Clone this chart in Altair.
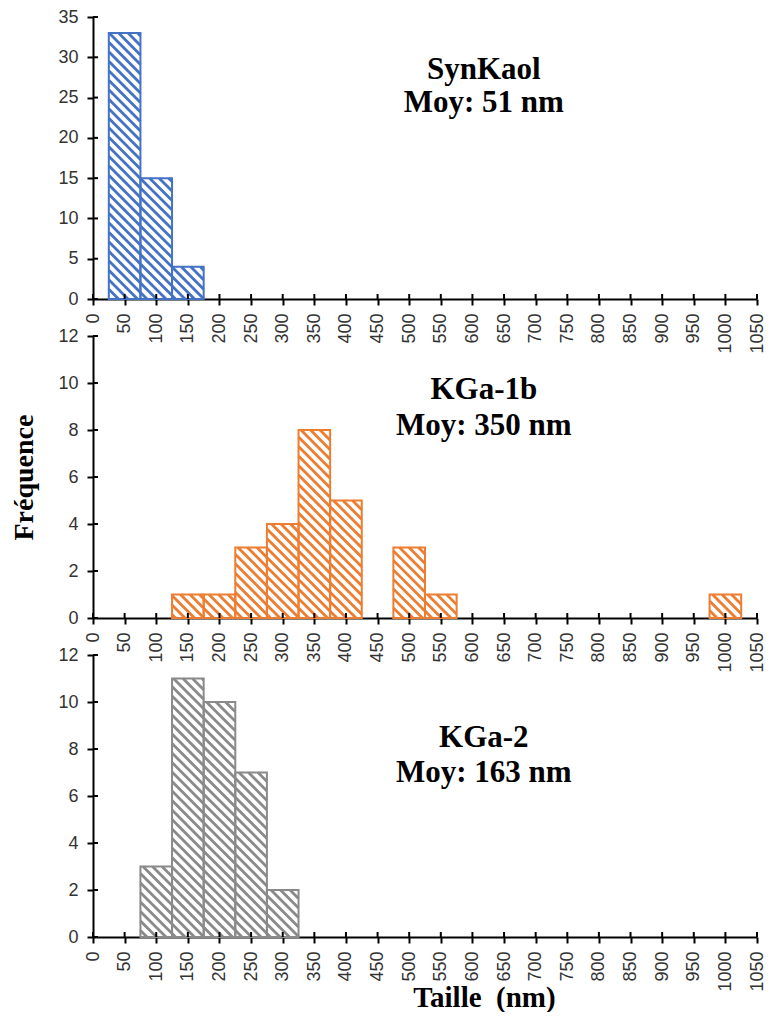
import altair as alt
import pandas as pd
import numpy as np

# ---------------- data ----------------
x_ticks = list(range(0, 1051, 50))

syn_sizes = [50, 100, 150]
syn_counts = [33, 15, 4]

kga1b_sizes = [150, 200, 250, 300, 350, 400, 500, 550, 1000]
kga1b_counts = [1, 1, 3, 4, 8, 5, 3, 1, 1]

kga2_sizes = [100, 150, 200, 250, 300]
kga2_counts = [3, 11, 10, 7, 2]

names = ["SynKaol", "KGa-1b", "KGa-2"]
means = ["Moy: 51 nm", "Moy: 350 nm", "Moy: 163 nm"]
colors = ["#4472C4", "#ED7D31", "#8A8A8A"]
y_max = [35, 12, 12]
y_step = [5, 2, 2]
label_x = [618, 618, 618]
label_y1 = [28.4, 9.72, 8.45]
label_y2 = [24.3, 8.18, 7.0]

BIN = 50
W, H = 664, 282
HATCH = 9.5  # hatch period in px


def hatch_table(sizes, counts, ymax):
    kx = W / 1050.0
    ky = H / float(ymax)
    rows = []
    for c, n in zip(sizes, counts):
        px0 = (c - BIN / 2) * kx
        px1 = (c + BIN / 2) * kx
        ptop = H - n * ky
        pbot = H
        k0 = int(np.ceil((ptop - px1) / HATCH))
        k1 = int(np.floor((pbot - px0) / HATCH))
        for k in range(k0, k1 + 1):
            d = k * HATCH
            sx = max(px0, ptop - d)
            ex = min(px1, pbot - d)
            if ex - sx > 0.6:
                rows.append({
                    "hx": sx / kx, "hy": (H - (sx + d)) / ky,
                    "hx2": ex / kx, "hy2": (H - (ex + d)) / ky,
                })
    return pd.DataFrame(rows)


def panel(i, sizes, counts, y_title, x_title):
    df = pd.DataFrame({"size": sizes, "count": counts})
    df["x0"] = df["size"] - BIN / 2
    df["x1"] = df["size"] + BIN / 2
    col = colors[i]

    xs = alt.Scale(domain=[0, 1050], nice=False, zero=False)
    ys = alt.Scale(domain=[0, y_max[i]], nice=False)
    xaxis = alt.Axis(values=x_ticks, labelAngle=270, title=x_title,
                     format="d", labelPadding=8,
                     titleX=391, titleY=60, titleBaseline="middle",
                     titleAlign="center", titleFontSize=29)
    yaxis = alt.Axis(values=list(range(0, y_max[i] + 1, y_step[i])),
                     format="d", labelPadding=9,
                     title=y_title, titlePadding=19)

    hdf = hatch_table(sizes, counts, y_max[i])
    hatch = alt.Chart(hdf).mark_rule(color=col, strokeWidth=2.8).encode(
        x=alt.X("hx:Q", scale=xs, axis=xaxis),
        y=alt.Y("hy:Q", scale=ys, axis=yaxis),
        x2="hx2:Q", y2="hy2:Q",
    )
    bars = alt.Chart(df).mark_rect(stroke=col, strokeWidth=2, fillOpacity=0,
                                   fill="white").encode(
        x=alt.X("x0:Q", scale=xs, axis=xaxis),
        x2="x1:Q",
        y=alt.Y("count:Q", scale=ys, axis=yaxis),
        y2=alt.datum(0),
    )
    tdf = pd.DataFrame({"tx": [label_x[i], label_x[i]],
                        "ty": [label_y1[i], label_y2[i]],
                        "txt": [names[i], means[i]]})
    text = alt.Chart(tdf).mark_text(font="Liberation Serif", fontWeight="bold",
                                    fontSize=31, color="black",
                                    baseline="middle").encode(
        x=alt.X("tx:Q", scale=xs, axis=xaxis),
        y=alt.Y("ty:Q", scale=ys, axis=yaxis),
        text="txt:N",
    )
    xt = pd.DataFrame({"t": x_ticks})
    inner_x = alt.Chart(xt).mark_rule(color="black", strokeWidth=2).encode(
        x=alt.X("t:Q", scale=xs, axis=xaxis),
        y=alt.value(H), y2=alt.value(H - 5),
    )
    yt = pd.DataFrame({"v": list(range(0, y_max[i] + 1, y_step[i]))})
    inner_y = alt.Chart(yt).mark_rule(color="black", strokeWidth=2).encode(
        y=alt.Y("v:Q", scale=ys, axis=yaxis),
        x=alt.value(0), x2=alt.value(5),
    )
    return alt.layer(hatch, bars, text, inner_x, inner_y).properties(
        width=W, height=H)


p1 = panel(0, syn_sizes, syn_counts, None, None)
p2 = panel(1, kga1b_sizes, kga1b_counts, "Fréquence", None)
p3 = panel(2, kga2_sizes, kga2_counts, None, "Taille\u00a0 (nm)")

chart = alt.vconcat(p1, p2, p3, spacing=37, bounds="flush").properties(
    padding={"top": 0, "left": 2, "right": 0, "bottom": 0}
).configure_view(stroke=None).configure_axis(
    domainColor="black", domainWidth=2, tickColor="black", tickWidth=2,
    tickSize=6, labelFont="Liberation Sans", labelFontSize=18,
    labelColor="#333333", grid=False, titleFont="Liberation Serif",
    titleFontSize=28, titleFontWeight="bold", titleColor="black",
)

chart.save("out.html", embed_options={"renderer": "svg", "actions": False})
